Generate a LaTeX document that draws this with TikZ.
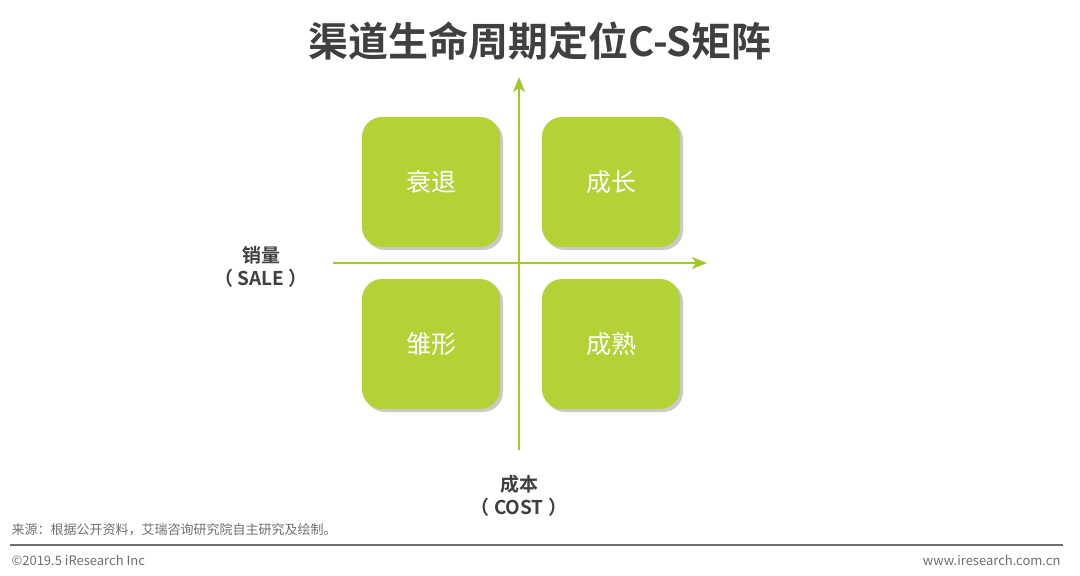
\documentclass[tikz,border=0pt]{standalone}
\usepackage{fontspec}
\setmainfont{Noto Sans CJK SC}
\newfontfamily\cjkbold{Noto Sans CJK SC Bold}
\usetikzlibrary{arrows.meta,shadows}
\definecolor{stagegreen}{RGB}{178,210,53}
\definecolor{axisgreen}{RGB}{160,200,45}
\definecolor{titlegray}{RGB}{64,64,64}
\definecolor{notegray}{RGB}{110,110,110}
\tikzset{
  stagebox/.style={fill=stagegreen, rounded corners=20pt, minimum width=138pt,
    minimum height=130pt, text=white, font=\fontsize{25}{28}\selectfont,
    drop shadow={shadow xshift=3pt, shadow yshift=-3pt, opacity=0.35, fill=black!60}},
  axisline/.style={axisgreen, line width=2pt, -{Stealth[length=15pt,width=12pt,inset=4pt]}},
  axislabel/.style={titlegray, align=center, font=\cjkbold\fontsize{19}{23}\selectfont},
  footnote/.style={notegray, font=\fontsize{13}{15}\selectfont}
}
\begin{document}
\begin{tikzpicture}[x=1pt, y=-1pt]
  \useasboundingbox (0,0) rectangle (1080,576);
  % title
  \node[titlegray, font=\cjkbold\fontsize{40}{44}\selectfont] (title) at (540,41) {渠道生命周期定位C-S矩阵};
  % four stages
  \node[stagebox] (decline) at (431,182) {衰退};
  \node[stagebox] (growth) at (611,182) {成长};
  \node[stagebox] (embryo) at (431,344) {雏形};
  \node[stagebox] (mature) at (611,344) {成熟};
  % axes
  \coordinate (vbot) at (519,450);
  \coordinate (vtop) at (519,77);
  \coordinate (hleft) at (333,263);
  \coordinate (hright) at (707,263);
  \draw[axisline] (vbot) -- (vtop);
  \draw[axisline] (hleft) -- (hright);
  \node[axislabel] (sale) at (261,267) {销量\\（ SALE ）};
  \node[axislabel] (cost) at (519,496) {成本\\（ COST ）};
  % footer
  \node[footnote, anchor=west] (source) at (8,530) {来源：根据公开资料，艾瑞咨询研究院自主研究及绘制。};
  \coordinate (rulel) at (10,545);
  \coordinate (ruler) at (1063,545);
  \draw[notegray, line width=1.2pt] (rulel) -- (ruler);
  \node[footnote, anchor=west] (copy) at (8,560) {©2019.5 iResearch Inc};
  \node[footnote, anchor=east] (site) at (1064,560) {www.iresearch.com.cn};
\end{tikzpicture}
\end{document}
